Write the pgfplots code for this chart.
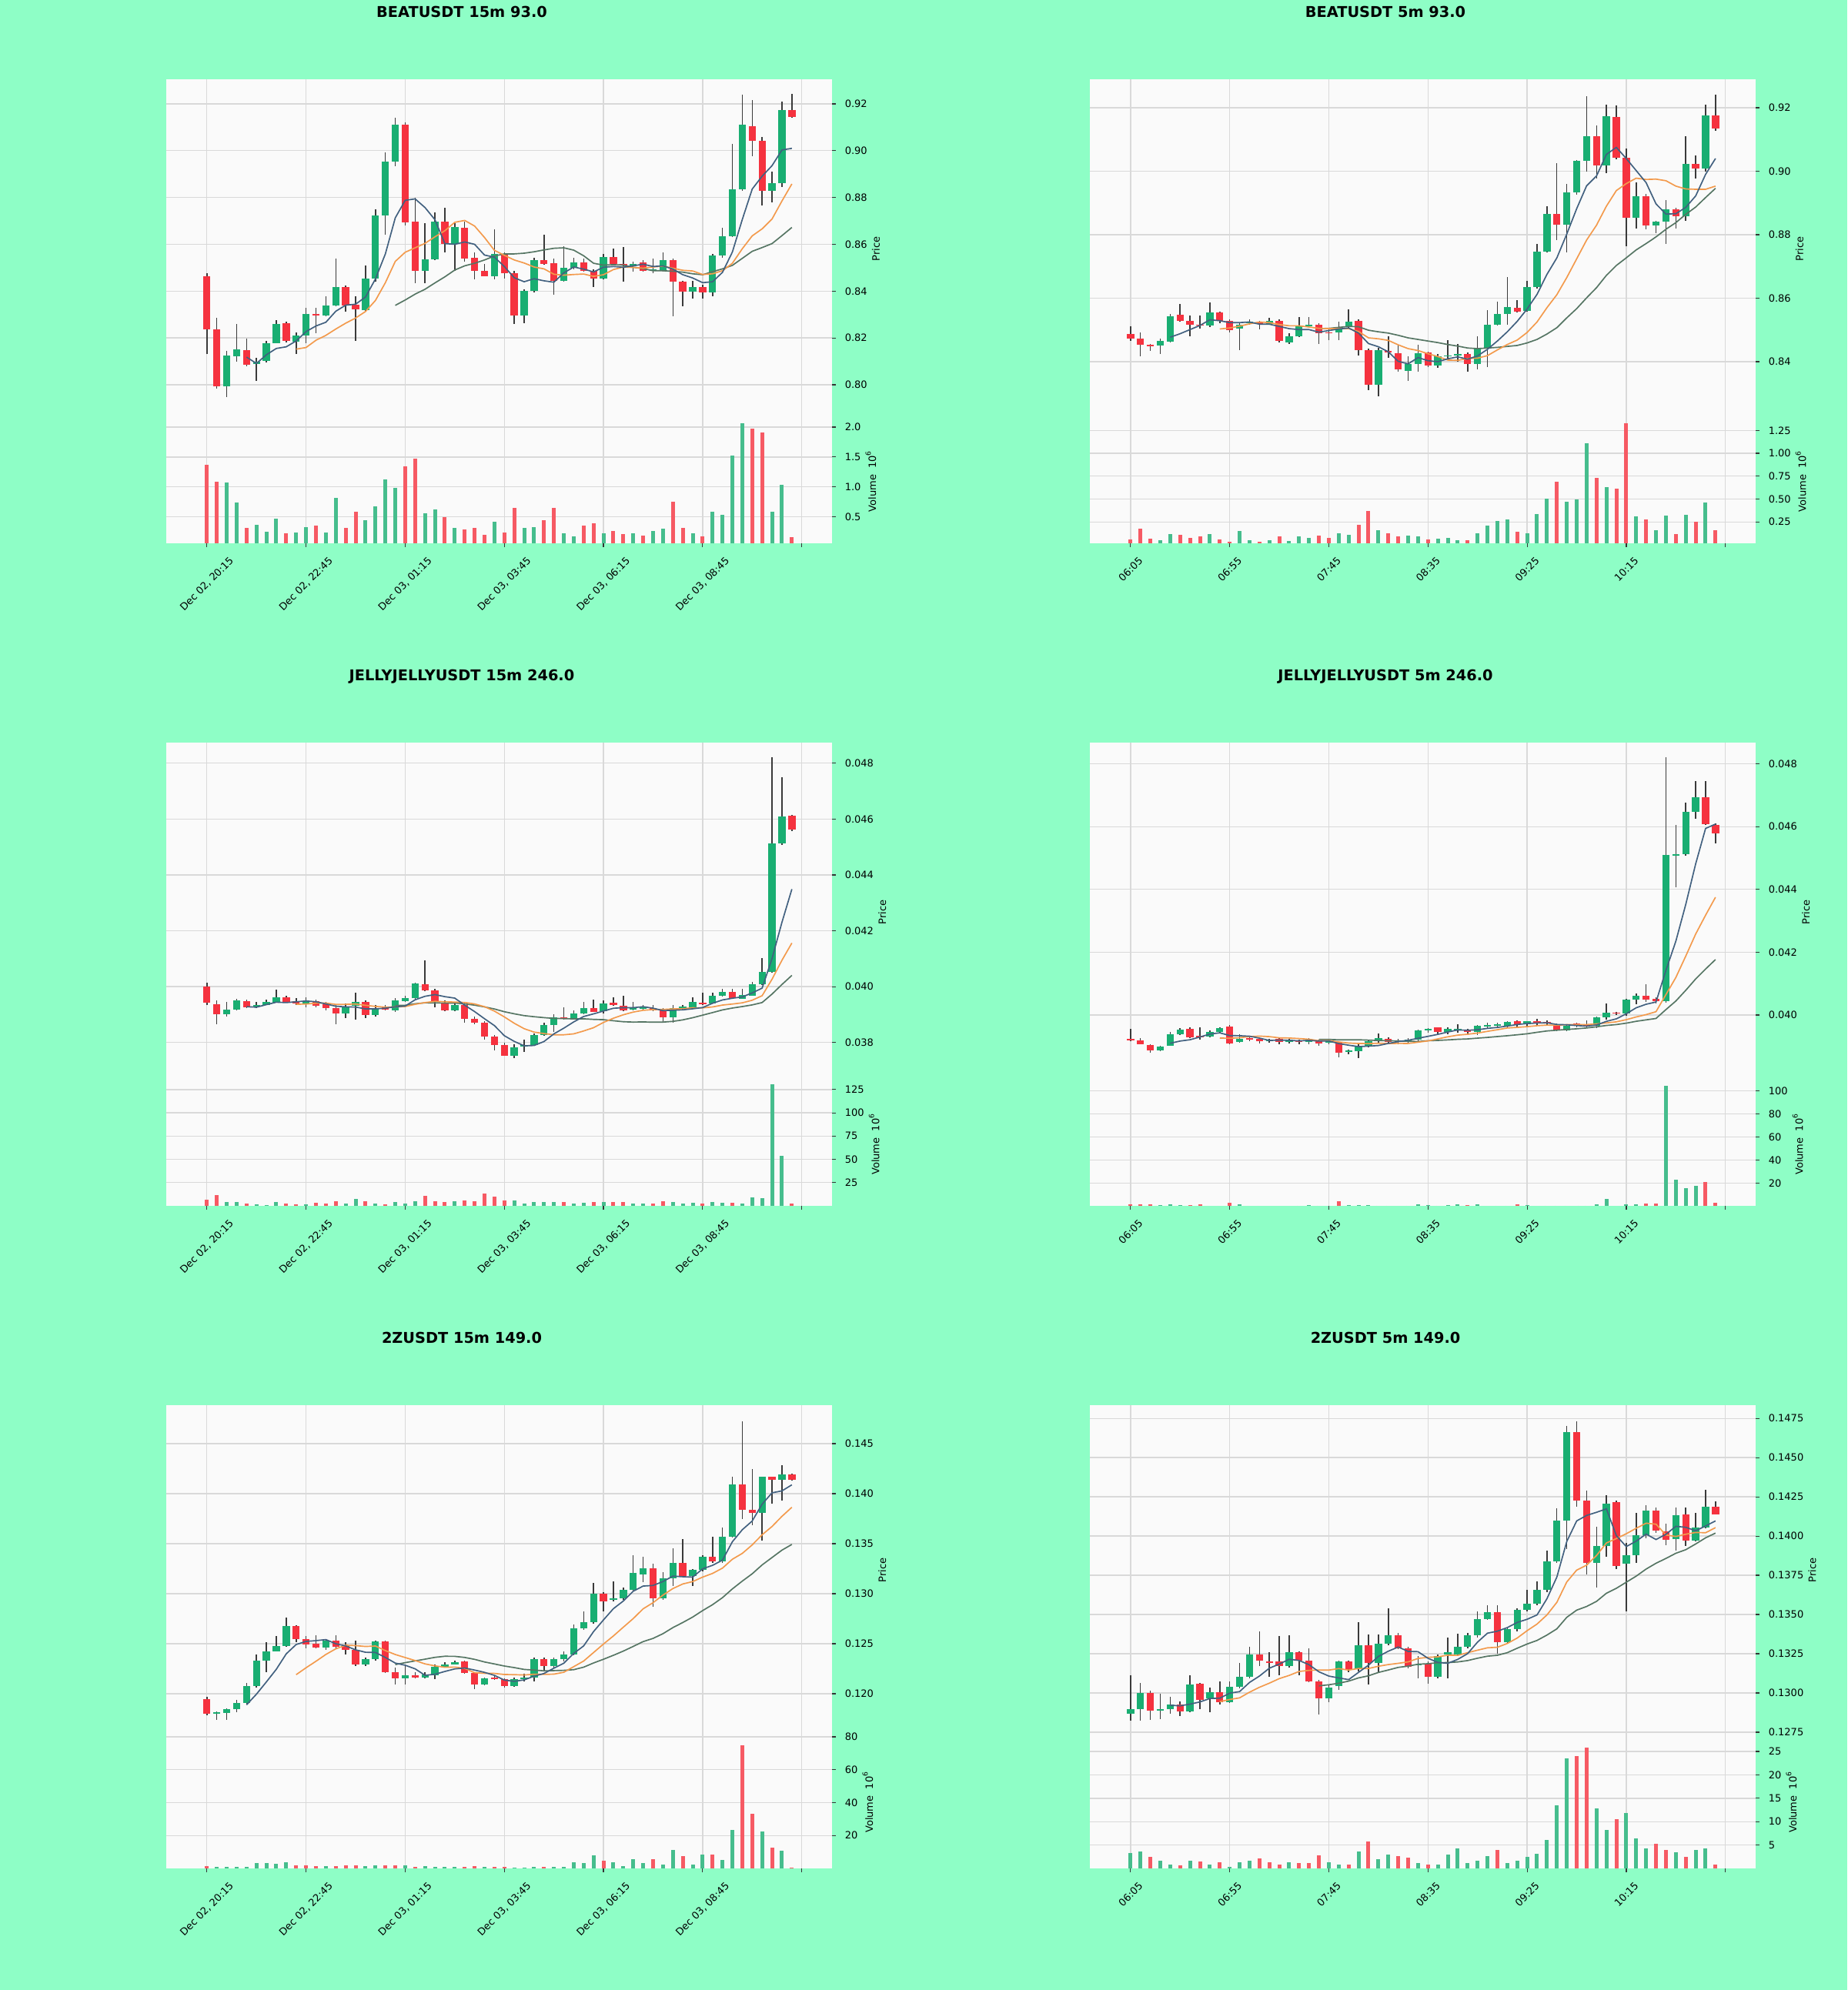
\documentclass[border=0pt]{standalone}
\usepackage{fontspec}
\setmainfont{DejaVu Sans}
\usepackage{pgfplots}
\usepackage{pgfplotstable}
\pgfplotsset{compat=1.18}

\definecolor{figbg}{HTML}{8EFEC6}
\definecolor{axbg}{HTML}{FAFAFA}
\definecolor{gridc}{HTML}{D9D9D9}
\definecolor{upc}{HTML}{19AE72}
\definecolor{dnc}{HTML}{F5323F}
\definecolor{upv}{HTML}{46BD8D}
\definecolor{dnv}{HTML}{F65A64}
\definecolor{wickc}{HTML}{3A3A3A}
\definecolor{ma5c}{HTML}{41607F}
\definecolor{ma10c}{HTML}{F39A4C}
\definecolor{ma20c}{HTML}{557563}

\newcommand{\tickfont}{\fontsize{3.9}{4.7}\selectfont}
\newcommand{\titlefont}{\fontsize{5.8}{7}\selectfont\bfseries}

\pgfplotsset{
  common/.style={anchor=south west, scale only axis, width=259.5pt,
    xmin=-4.1, xmax=63.05,
    axis background/.style={fill=axbg}, axis line style={draw=none},
    grid=major, major grid style={draw=gridc, line width=0.4pt},
    xtick={0,10,20,30,40,50,60},
    ytick pos=right, yticklabel pos=right,
    tick align=outside, major tick length=1.5pt,
    ytick style={draw=black!80, line width=0.35pt},
    tick label style={font=\tickfont},
    scaled y ticks=false,
    ylabel near ticks,
    ylabel style={font=\tickfont},
    ylabel shift=-5pt,
    unbounded coords=discard, clip=true},
  pricestyle/.style={common, xticklabels={}, xtick style={draw=none}, ylabel={Price}},
  volstyle/.style={common, xtick pos=left, xtick style={draw=black!80, line width=0.35pt},
    ylabel={Volume\ \ 10\textsuperscript{6}}},
  col15/.style={xticklabels={{Dec 02, 20:15},{Dec 02, 22:45},{Dec 03, 01:15},{Dec 03, 03:45},{Dec 03, 06:15},{Dec 03, 08:45},{}},
    xticklabel style={yshift=-14.4pt, rotate=45, anchor=center}},
  col5/.style={xticklabels={06:05,06:55,07:45,08:35,09:25,10:15,{}},
    xticklabel style={yshift=-8.7pt, rotate=45, anchor=center}},
  wickplot/.style={draw=none, mark=none, error bars/y dir=both, error bars/y explicit,
    error bars/error mark=none, error bars/error bar style={line width=0.45pt, draw=wickc, solid}},
  bodyplot/.style={draw=none, mark=none, error bars/y dir=both, error bars/y explicit,
    error bars/error mark=none, error bars/error bar style={line width=2.8pt, draw=#1, solid}},
  maline/.style={mark=none, sharp plot, line width=0.5pt, draw=#1},
  volbar/.style={ycomb, mark=none, line width=1.5pt, draw=#1},
}

% #1 table, #2 x left, #3 y bottom, #4 volume height, #5 price height, #6 price options, #7 volume options
\newcommand{\drawpanel}[7]{%
\begin{axis}[pricestyle, at={(#2,#3+#4)}, height=#5, #6]
  \addplot[wickplot] table[x=x, y expr={0.5*(\thisrow{h}+\thisrow{l})}, y error expr={0.5*(\thisrow{h}-\thisrow{l})}] {#1};
  \addplot[bodyplot=upc] table[x=x, y expr={\thisrow{c}>=\thisrow{o} ? 0.5*(\thisrow{o}+\thisrow{c}) : nan}, y error expr={0.5*abs(\thisrow{c}-\thisrow{o})}] {#1};
  \addplot[bodyplot=dnc] table[x=x, y expr={\thisrow{c}<\thisrow{o} ? 0.5*(\thisrow{o}+\thisrow{c}) : nan}, y error expr={0.5*abs(\thisrow{c}-\thisrow{o})}] {#1};
  \addplot[maline=ma20c] table[x=x, y=m20] {#1};
  \addplot[maline=ma10c] table[x=x, y=m10] {#1};
  \addplot[maline=ma5c] table[x=x, y=m5] {#1};
\end{axis}
\begin{axis}[volstyle, at={(#2,#3)}, height=#4, #7]
  \addplot[volbar=upv] table[x=x, y expr={\thisrow{c}>=\thisrow{o} ? \thisrow{v} : nan}] {#1};
  \addplot[volbar=dnv] table[x=x, y expr={\thisrow{c}<\thisrow{o} ? \thisrow{v} : nan}] {#1};
\end{axis}}

% BEATUSDT 15m
\pgfplotstableread{
x o h l c v m5 m10 m20
0 0.8463 0.8477 0.8132 0.8236 1.37 nan nan nan
1 0.8236 0.8286 0.7985 0.7993 1.09 nan nan nan
2 0.7993 0.8143 0.7948 0.8124 1.08 nan nan nan
3 0.8121 0.8258 0.8100 0.8152 0.74 nan nan nan
4 0.8149 0.8198 0.8078 0.8085 0.32 0.8118 nan nan
5 0.8090 0.8116 0.8017 0.8100 0.37 0.8091 nan nan
6 0.8102 0.8187 0.8095 0.8178 0.25 0.8128 nan nan
7 0.8178 0.8275 0.8176 0.8260 0.47 0.8155 nan nan
8 0.8262 0.8269 0.8182 0.8187 0.23 0.8162 nan nan
9 0.8185 0.8225 0.8132 0.8209 0.24 0.8187 0.8152 nan
10 0.8209 0.8329 0.8176 0.8302 0.33 0.8227 0.8159 nan
11 0.8302 0.8329 0.8220 0.8298 0.36 0.8251 0.8190 nan
12 0.8297 0.8379 0.8291 0.8340 0.24 0.8267 0.8211 nan
13 0.8340 0.8538 0.8335 0.8419 0.82 0.8314 0.8238 nan
14 0.8419 0.8423 0.8313 0.8340 0.32 0.8340 0.8263 nan
15 0.8343 0.8379 0.8187 0.8321 0.59 0.8344 0.8285 nan
16 0.8318 0.8510 0.8313 0.8455 0.45 0.8375 0.8313 nan
17 0.8455 0.8751 0.8439 0.8724 0.68 0.8452 0.8360 nan
18 0.8724 0.8992 0.8642 0.8954 1.12 0.8559 0.8436 nan
19 0.8954 0.9140 0.8932 0.9112 0.99 0.8713 0.8527 0.8339
20 0.9112 0.9120 0.8680 0.8693 1.34 0.8788 0.8566 0.8362
21 0.8696 0.8800 0.8433 0.8488 1.47 0.8794 0.8585 0.8387
22 0.8488 0.8691 0.8433 0.8537 0.56 0.8757 0.8604 0.8408
23 0.8535 0.8735 0.8532 0.8696 0.62 0.8705 0.8632 0.8435
24 0.8696 0.8757 0.8565 0.8603 0.49 0.8603 0.8658 0.8461
25 0.8603 0.8691 0.8488 0.8674 0.32 0.8600 0.8694 0.8490
26 0.8672 0.8696 0.8527 0.8540 0.29 0.8610 0.8702 0.8508
27 0.8543 0.8565 0.8450 0.8486 0.32 0.8600 0.8678 0.8519
28 0.8486 0.8516 0.8463 0.8465 0.20 0.8554 0.8629 0.8533
29 0.8465 0.8663 0.8450 0.8559 0.42 0.8545 0.8574 0.8550
30 0.8559 0.8565 0.8455 0.8477 0.24 0.8505 0.8553 0.8559
31 0.8477 0.8488 0.8258 0.8297 0.65 0.8457 0.8533 0.8559
32 0.8297 0.8406 0.8264 0.8400 0.32 0.8440 0.8520 0.8562
33 0.8400 0.8543 0.8395 0.8532 0.33 0.8453 0.8503 0.8568
34 0.8532 0.8642 0.8514 0.8516 0.44 0.8444 0.8495 0.8576
35 0.8518 0.8538 0.8386 0.8444 0.65 0.8438 0.8472 0.8583
36 0.8444 0.8592 0.8439 0.8499 0.23 0.8478 0.8468 0.8585
37 0.8499 0.8543 0.8494 0.8524 0.18 0.8503 0.8471 0.8575
38 0.8524 0.8538 0.8483 0.8486 0.36 0.8494 0.8473 0.8551
39 0.8486 0.8494 0.8417 0.8455 0.39 0.8482 0.8463 0.8519
40 0.8455 0.8559 0.8450 0.8545 0.23 0.8502 0.8470 0.8511
41 0.8545 0.8581 0.8510 0.8516 0.27 0.8505 0.8492 0.8513
42 0.8515 0.8587 0.8439 0.8510 0.21 0.8502 0.8503 0.8511
43 0.8505 0.8527 0.8483 0.8516 0.22 0.8508 0.8501 0.8502
44 0.8521 0.8532 0.8483 0.8488 0.19 0.8515 0.8498 0.8496
45 0.8486 0.8538 0.8477 0.8494 0.26 0.8505 0.8503 0.8487
46 0.8488 0.8565 0.8483 0.8532 0.30 0.8508 0.8507 0.8487
47 0.8532 0.8538 0.8291 0.8439 0.75 0.8494 0.8498 0.8485
48 0.8439 0.8444 0.8335 0.8397 0.32 0.8470 0.8489 0.8481
49 0.8397 0.8444 0.8368 0.8419 0.23 0.8456 0.8486 0.8474
50 0.8419 0.8428 0.8368 0.8395 0.17 0.8436 0.8471 0.8470
51 0.8395 0.8559 0.8379 0.8552 0.59 0.8440 0.8474 0.8483
52 0.8552 0.8669 0.8543 0.8636 0.53 0.8480 0.8487 0.8495
53 0.8636 0.9030 0.8630 0.8835 1.52 0.8567 0.8519 0.8510
54 0.8835 0.9238 0.8830 0.9112 2.06 0.8706 0.8581 0.8540
55 0.9105 0.9216 0.8976 0.9043 1.97 0.8836 0.8636 0.8570
56 0.9043 0.9058 0.8767 0.8828 1.91 0.8891 0.8666 0.8586
57 0.8828 0.8910 0.8778 0.8861 0.58 0.8936 0.8708 0.8603
58 0.8861 0.9211 0.8844 0.9173 1.04 0.9003 0.8785 0.8637
59 0.9173 0.9244 0.9140 0.9145 0.16 0.9010 0.8858 0.8672
}\tA

% BEATUSDT 5m
\pgfplotstableread{
x o h l c v m5 m10 m20
0 0.84873 0.85115 0.84663 0.84727 0.062 nan nan nan
1 0.84727 0.84929 0.84162 0.84525 0.18 nan nan nan
2 0.84533 0.84566 0.84339 0.84501 0.067 nan nan nan
3 0.84501 0.84727 0.84242 0.84663 0.048 nan nan nan
4 0.84630 0.85495 0.84606 0.85438 0.115 0.8477 nan nan
5 0.85470 0.85818 0.85252 0.85293 0.11 0.8488 nan nan
6 0.85277 0.85454 0.84808 0.85172 0.076 0.8501 nan nan
7 0.85172 0.85454 0.85050 0.85131 0.09 0.8514 nan nan
8 0.85131 0.85875 0.85091 0.85551 0.118 0.8532 nan nan
9 0.85551 0.85576 0.85212 0.85293 0.059 0.8529 0.8503 nan
10 0.85293 0.85333 0.84929 0.84986 0.034 0.8523 0.8506 nan
11 0.85034 0.85212 0.84364 0.85172 0.15 0.8523 0.8512 nan
12 0.85212 0.85333 0.85172 0.85252 0.053 0.8525 0.8519 nan
13 0.85236 0.85293 0.85010 0.85196 0.034 0.8518 0.8525 nan
14 0.85196 0.85374 0.85172 0.85277 0.053 0.8518 0.8523 nan
15 0.85293 0.85333 0.84606 0.84646 0.095 0.8511 0.8517 nan
16 0.84606 0.84889 0.84566 0.84808 0.045 0.8504 0.8513 nan
17 0.84808 0.85414 0.84768 0.85131 0.09 0.8501 0.8513 nan
18 0.85123 0.85414 0.85091 0.85164 0.073 0.8501 0.8509 nan
19 0.85172 0.85212 0.84566 0.84889 0.10 0.8493 0.8505 0.8504
20 0.84929 0.85050 0.84687 0.84889 0.076 0.8498 0.8504 0.8505
21 0.84929 0.85252 0.84687 0.85091 0.124 0.8503 0.8504 0.8508
22 0.85091 0.85656 0.85050 0.85252 0.112 0.8506 0.8504 0.8511
23 0.85293 0.85333 0.84202 0.84364 0.222 0.8490 0.8495 0.8510
24 0.84364 0.84404 0.83111 0.83273 0.37 0.8457 0.8475 0.8499
25 0.83273 0.84444 0.82909 0.84364 0.16 0.8447 0.8472 0.8494
26 0.84339 0.84808 0.84121 0.84307 0.13 0.8431 0.8467 0.8490
27 0.84259 0.84566 0.83693 0.83758 0.095 0.8401 0.8453 0.8483
28 0.83717 0.84162 0.83394 0.83935 0.10 0.8393 0.8441 0.8475
29 0.83935 0.84525 0.83677 0.84259 0.09 0.8413 0.8435 0.8470
30 0.84283 0.84323 0.83838 0.83879 0.062 0.8403 0.8425 0.8465
31 0.83879 0.84242 0.83798 0.84162 0.067 0.8400 0.8416 0.8460
32 0.84162 0.84687 0.84040 0.84202 0.076 0.8409 0.8405 0.8454
33 0.84202 0.84566 0.84000 0.84242 0.048 0.8415 0.8404 0.8449
34 0.84242 0.84283 0.83677 0.83919 0.048 0.8408 0.8410 0.8443
35 0.83919 0.84808 0.83758 0.84404 0.124 0.8418 0.8411 0.8441
36 0.84404 0.85616 0.83838 0.85172 0.21 0.8439 0.8419 0.8443
37 0.85172 0.85899 0.85131 0.85495 0.26 0.8465 0.8437 0.8445
38 0.85495 0.86666 0.85172 0.85713 0.28 0.8494 0.8454 0.8448
39 0.85697 0.85939 0.85551 0.85576 0.146 0.8527 0.8468 0.8451
40 0.85600 0.86545 0.85576 0.86360 0.124 0.8566 0.8492 0.8459
41 0.86360 0.87717 0.86303 0.87458 0.34 0.8612 0.8525 0.8470
42 0.87458 0.88888 0.87434 0.88646 0.506 0.8675 0.8570 0.8487
43 0.88646 0.90262 0.87838 0.88323 0.69 0.8727 0.8611 0.8507
44 0.88323 0.89592 0.87434 0.89333 0.47 0.8802 0.8665 0.8538
45 0.89333 0.90343 0.89268 0.90319 0.497 0.8882 0.8724 0.8567
46 0.90319 0.92363 0.89979 0.91095 1.11 0.8954 0.8783 0.8601
47 0.91095 0.91434 0.89777 0.90182 0.733 0.8985 0.8830 0.8633
48 0.90182 0.92096 0.89939 0.91741 0.63 0.9053 0.8890 0.8672
49 0.91717 0.92080 0.90383 0.90424 0.61 0.9075 0.8939 0.8703
50 0.90424 0.90706 0.87636 0.88541 1.33 0.9040 0.8961 0.8727
51 0.88541 0.89656 0.88202 0.89212 0.31 0.9002 0.8978 0.8752
52 0.89212 0.89292 0.88161 0.88283 0.28 0.8964 0.8974 0.8772
53 0.88283 0.88444 0.88040 0.88404 0.157 0.8897 0.8975 0.8793
54 0.88404 0.89090 0.87717 0.88808 0.32 0.8865 0.8970 0.8817
55 0.88808 0.88848 0.88202 0.88590 0.115 0.8866 0.8953 0.8838
56 0.88590 0.91110 0.88444 0.90238 0.33 0.8886 0.8944 0.8864
57 0.90238 0.90504 0.89777 0.90077 0.255 0.8922 0.8943 0.8887
58 0.90077 0.92096 0.89995 0.91757 0.46 0.8990 0.8943 0.8917
59 0.91757 0.92419 0.91272 0.91353 0.157 0.9040 0.8953 0.8946
}\tB

% JELLYJELLYUSDT 15m
\pgfplotstableread{
x o h l c v m5 m10 m20
0 0.04000 0.04013 0.03933 0.03942 6.5 nan nan nan
1 0.03938 0.03950 0.03866 0.03901 11.6 nan nan nan
2 0.03901 0.03946 0.03894 0.03918 3.8 nan nan nan
3 0.03918 0.03955 0.03916 0.03952 3.8 nan nan nan
4 0.03949 0.03953 0.03922 0.03927 2.7 0.039280 nan nan
5 0.03928 0.03944 0.03924 0.03934 1.4 0.039264 nan nan
6 0.03934 0.03953 0.03933 0.03946 1.0 0.039354 nan nan
7 0.03943 0.03989 0.03942 0.03962 3.8 0.039442 nan nan
8 0.03962 0.03966 0.03944 0.03945 2.1 0.039428 nan nan
9 0.03948 0.03958 0.03935 0.03941 1.4 0.039456 0.039368 nan
10 0.03941 0.03961 0.03927 0.03949 1.4 0.039486 0.039375 nan
11 0.03948 0.03953 0.03927 0.03932 3.1 0.039458 0.039406 nan
12 0.03938 0.03944 0.03916 0.03923 2.1 0.039380 0.039411 nan
13 0.03923 0.03933 0.03866 0.03904 4.8 0.039298 0.039363 nan
14 0.03904 0.03939 0.03888 0.03929 2.7 0.039274 0.039365 nan
15 0.03930 0.03978 0.03883 0.03946 7.2 0.039268 0.039377 nan
16 0.03946 0.03950 0.03888 0.03899 4.8 0.039202 0.039330 nan
17 0.03899 0.03933 0.03894 0.03923 2.7 0.039202 0.039291 nan
18 0.03929 0.03933 0.03916 0.03918 1.4 0.039230 0.039264 nan
19 0.03914 0.03958 0.03908 0.03952 3.8 0.039276 0.039275 0.039322
20 0.03948 0.03966 0.03946 0.03960 2.7 0.039304 0.039286 0.039331
21 0.03958 0.04013 0.03953 0.04011 4.8 0.039528 0.039365 0.039386
22 0.04008 0.04095 0.03983 0.03986 10.6 0.039654 0.039428 0.039420
23 0.03986 0.03991 0.03927 0.03948 4.8 0.039714 0.039472 0.039418
24 0.03943 0.03950 0.03913 0.03915 3.8 0.039640 0.039458 0.039412
25 0.03915 0.03944 0.03911 0.03934 4.8 0.039588 0.039446 0.039412
26 0.03934 0.03944 0.03872 0.03885 5.5 0.039336 0.039432 0.039381
27 0.03885 0.03894 0.03866 0.03871 4.8 0.039106 0.039380 0.039336
28 0.03871 0.03877 0.03810 0.03820 13.0 0.038850 0.039282 0.039273
29 0.03820 0.03827 0.03771 0.03792 10.0 0.038604 0.039122 0.039199
30 0.03792 0.03799 0.03752 0.03753 5.5 0.038242 0.038915 0.039101
31 0.03753 0.03793 0.03745 0.03783 5.5 0.038038 0.038687 0.039026
32 0.03784 0.03810 0.03765 0.03792 2.7 0.037880 0.038493 0.038961
33 0.03792 0.03832 0.03790 0.03826 3.8 0.037892 0.038371 0.038922
34 0.03826 0.03872 0.03824 0.03863 3.8 0.038034 0.038319 0.038889
35 0.03863 0.03900 0.03838 0.03890 3.8 0.038308 0.038275 0.038861
36 0.03890 0.03927 0.03883 0.03885 4.5 0.038512 0.038275 0.038854
37 0.03885 0.03916 0.03883 0.03904 2.1 0.038736 0.038308 0.038844
38 0.03904 0.03946 0.03900 0.03923 3.1 0.038930 0.038411 0.038847
39 0.03923 0.03953 0.03908 0.03910 4.5 0.039024 0.038529 0.038826
40 0.03912 0.03950 0.03905 0.03941 3.8 0.039126 0.038717 0.038816
41 0.03943 0.03961 0.03931 0.03934 3.8 0.039224 0.038868 0.038778
42 0.03932 0.03966 0.03913 0.03915 3.8 0.039246 0.038991 0.038742
43 0.03918 0.03944 0.03916 0.03923 2.7 0.039246 0.039088 0.038730
44 0.03919 0.03935 0.03916 0.03927 2.1 0.039280 0.039152 0.038736
45 0.03923 0.03933 0.03911 0.03915 2.7 0.039228 0.039177 0.038726
46 0.03915 0.03924 0.03872 0.03890 4.8 0.039140 0.039182 0.038729
47 0.03890 0.03933 0.03872 0.03923 4.1 0.039156 0.039201 0.038755
48 0.03921 0.03933 0.03918 0.03929 2.1 0.039168 0.039207 0.038809
49 0.03927 0.03961 0.03922 0.03946 3.4 0.039206 0.039243 0.038886
50 0.03943 0.03978 0.03933 0.03937 2.7 0.039250 0.039239 0.038978
51 0.03940 0.03978 0.03939 0.03967 3.8 0.039404 0.039272 0.039070
52 0.03967 0.03991 0.03964 0.03982 3.1 0.039522 0.039339 0.039165
53 0.03982 0.03991 0.03958 0.03960 3.1 0.039584 0.039376 0.039232
54 0.03957 0.03991 0.03955 0.03970 2.1 0.039632 0.039419 0.039286
55 0.03967 0.04017 0.03966 0.04008 9.0 0.039774 0.039512 0.039345
56 0.04008 0.04101 0.04006 0.04053 8.0 0.039946 0.039675 0.039429
57 0.04053 0.04821 0.04050 0.04513 131 0.041008 0.040265 0.039733
58 0.04513 0.04750 0.04507 0.04608 53.4 0.042304 0.040944 0.040076
59 0.04611 0.04614 0.04558 0.04563 2.1 0.043490 0.041561 0.040402
}\tC

% JELLYJELLYUSDT 5m
\pgfplotstableread{
x o h l c v m5 m10 m20
0 0.03925 0.03956 0.03916 0.03918 1.8 nan nan nan
1 0.03920 0.03926 0.03906 0.03907 1.5 nan nan nan
2 0.03905 0.03908 0.03879 0.03887 1.8 nan nan nan
3 0.03887 0.03903 0.03886 0.03900 1.0 nan nan nan
4 0.03903 0.03946 0.03901 0.03938 1.5 0.039100 nan nan
5 0.03938 0.03958 0.03936 0.03953 1.0 0.039170 nan nan
6 0.03956 0.03961 0.03926 0.03928 1.2 0.039212 nan nan
7 0.03934 0.03961 0.03921 0.03931 1.5 0.039300 nan nan
8 0.03931 0.03951 0.03928 0.03946 0.8 0.039392 nan nan
9 0.03946 0.03961 0.03944 0.03958 0.8 0.039432 0.039266 nan
10 0.03962 0.03968 0.03908 0.03910 3.0 0.039346 0.039258 nan
11 0.03914 0.03938 0.03911 0.03925 1.8 0.039340 0.039276 nan
12 0.03927 0.03931 0.03916 0.03923 0.8 0.039324 0.039312 nan
13 0.03924 0.03926 0.03910 0.03916 0.8 0.039264 0.039328 nan
14 0.03917 0.03923 0.03911 0.03921 0.5 0.039190 0.039311 nan
15 0.03925 0.03926 0.03908 0.03915 0.5 0.039200 0.039273 nan
16 0.03915 0.03924 0.03909 0.03922 0.5 0.039194 0.039267 nan
17 0.03920 0.03921 0.03906 0.03914 0.6 0.039176 0.039250 nan
18 0.03915 0.03926 0.03908 0.03924 1.0 0.039192 0.039228 nan
19 0.03920 0.03921 0.03903 0.03910 0.8 0.039170 0.039180 0.039223
20 0.03912 0.03921 0.03908 0.03917 0.5 0.039174 0.039187 0.039223
21 0.03915 0.03916 0.03864 0.03880 4.4 0.039090 0.039142 0.039209
22 0.03883 0.03890 0.03876 0.03888 1.0 0.039038 0.039107 0.039210
23 0.03886 0.03906 0.03863 0.03902 1.0 0.038994 0.039093 0.039211
24 0.03902 0.03918 0.03896 0.03917 1.2 0.039008 0.039089 0.039200
25 0.03917 0.03941 0.03911 0.03927 0.8 0.039028 0.039101 0.039187
26 0.03925 0.03928 0.03906 0.03913 0.6 0.039094 0.039092 0.039180
27 0.03913 0.03923 0.03908 0.03918 0.5 0.039154 0.039096 0.039173
28 0.03918 0.03926 0.03911 0.03922 0.6 0.039194 0.039094 0.039161
29 0.03922 0.03953 0.03914 0.03950 1.5 0.039260 0.039134 0.039157
30 0.03952 0.03958 0.03944 0.03957 1.2 0.039320 0.039174 0.039181
31 0.03960 0.03961 0.03938 0.03945 0.8 0.039384 0.039239 0.039191
32 0.03945 0.03961 0.03938 0.03955 1.2 0.039458 0.039306 0.039207
33 0.03952 0.03971 0.03944 0.03955 1.8 0.039524 0.039359 0.039226
34 0.03952 0.03956 0.03936 0.03945 1.0 0.039514 0.039387 0.039238
35 0.03945 0.03968 0.03936 0.03965 1.5 0.039530 0.039425 0.039263
36 0.03964 0.03976 0.03958 0.03967 0.5 0.039574 0.039479 0.039286
37 0.03966 0.03976 0.03958 0.03970 0.8 0.039604 0.039531 0.039314
38 0.03965 0.03980 0.03958 0.03977 0.8 0.039648 0.039586 0.039340
39 0.03980 0.03984 0.03961 0.03970 1.8 0.039698 0.039606 0.039370
40 0.03970 0.03981 0.03961 0.03980 1.2 0.039728 0.039629 0.039402
41 0.03980 0.03988 0.03968 0.03975 0.5 0.039744 0.039659 0.039449
42 0.03978 0.03982 0.03966 0.03974 0.6 0.039752 0.039678 0.039492
43 0.03968 0.03973 0.03948 0.03950 0.8 0.039698 0.039673 0.039516
44 0.03950 0.03971 0.03948 0.03965 0.6 0.039688 0.039693 0.039540
45 0.03972 0.03975 0.03961 0.03968 0.4 0.039664 0.039696 0.039561
46 0.03970 0.03984 0.03960 0.03966 0.6 0.039646 0.039695 0.039587
47 0.03965 0.03995 0.03958 0.03992 1.8 0.039682 0.039717 0.039624
48 0.03992 0.04036 0.03986 0.04008 6.4 0.039798 0.039748 0.039667
49 0.04008 0.04010 0.04000 0.04005 0.5 0.039878 0.039783 0.039695
50 0.04005 0.04051 0.03998 0.04048 2.0 0.040038 0.039851 0.039740
51 0.04048 0.04068 0.04034 0.04062 1.8 0.040230 0.039938 0.039799
52 0.04062 0.04098 0.04041 0.04048 2.5 0.040342 0.040012 0.039845
53 0.04052 0.04056 0.04036 0.04044 2.2 0.040414 0.040106 0.039890
54 0.04044 0.04821 0.04038 0.04509 104.6 0.041422 0.040650 0.040172
55 0.04508 0.04606 0.04406 0.04512 23.0 0.042350 0.041194 0.040445
56 0.04512 0.04676 0.04508 0.04648 15.9 0.043522 0.041876 0.040786
57 0.04648 0.04746 0.04626 0.04694 17.5 0.044814 0.042578 0.041148
58 0.04694 0.04744 0.04606 0.04608 20.8 0.045942 0.043178 0.041463
59 0.04606 0.04611 0.04546 0.04578 3.1 0.046080 0.043751 0.041767
}\tD

% 2ZUSDT 15m
\pgfplotstableread{
x o h l c v m5 m10 m20
0 0.11944 0.11969 0.11782 0.11798 1.5 nan nan nan
1 0.11802 0.11823 0.11735 0.11816 0.8 nan nan nan
2 0.11810 0.11854 0.11735 0.11847 0.8 nan nan nan
3 0.11847 0.11938 0.11813 0.11907 0.8 nan nan nan
4 0.11907 0.12109 0.11891 0.12078 1.0 0.118892 nan nan
5 0.12078 0.12390 0.12063 0.12334 3.4 0.119964 nan nan
6 0.12334 0.12514 0.12218 0.12427 3.4 0.121186 nan nan
7 0.12427 0.12577 0.12421 0.12477 2.9 0.122446 nan nan
8 0.12477 0.12764 0.12468 0.12677 3.8 0.123986 nan nan
9 0.12677 0.12686 0.12514 0.12546 2.1 0.124922 0.121907 nan
10 0.12546 0.12577 0.12452 0.12490 1.9 0.125234 0.122599 nan
11 0.12500 0.12583 0.12452 0.12465 1.2 0.125310 0.123248 nan
12 0.12465 0.12546 0.12437 0.12530 1.3 0.125416 0.123931 nan
13 0.12530 0.12583 0.12452 0.12468 1.5 0.124998 0.124492 nan
14 0.12477 0.12514 0.12390 0.12437 1.8 0.124780 0.124851 nan
15 0.12437 0.12530 0.12281 0.12296 2.1 0.124392 0.124813 nan
16 0.12296 0.12359 0.12281 0.12343 1.2 0.124148 0.124729 nan
17 0.12343 0.12530 0.12334 0.12521 2.0 0.124130 0.124773 nan
18 0.12521 0.12530 0.12209 0.12218 2.0 0.123630 0.124314 nan
19 0.12218 0.12265 0.12094 0.12156 2.0 0.123068 0.123924 0.122916
20 0.12156 0.12281 0.12094 0.12187 1.8 0.122850 0.123621 0.123110
21 0.12187 0.12218 0.12156 0.12165 1.0 0.122494 0.123321 0.123285
22 0.12165 0.12218 0.12156 0.12196 1.2 0.121844 0.122987 0.123459
23 0.12187 0.12296 0.12147 0.12271 1.0 0.121950 0.122790 0.123641
24 0.12271 0.12312 0.12265 0.12296 1.0 0.122230 0.122649 0.123750
25 0.12296 0.12334 0.12296 0.12315 1.0 0.122486 0.122668 0.123741
26 0.12321 0.12334 0.12203 0.12209 0.8 0.122574 0.122534 0.123632
27 0.12209 0.12218 0.12047 0.12094 1.5 0.122370 0.122107 0.123440
28 0.12094 0.12165 0.12084 0.12156 0.8 0.122140 0.122045 0.123180
29 0.12165 0.12187 0.12140 0.12147 0.8 0.121842 0.122036 0.122980
30 0.12147 0.12156 0.12063 0.12078 0.8 0.121368 0.121927 0.122774
31 0.12078 0.12165 0.12072 0.12147 0.6 0.121244 0.121909 0.122615
32 0.12147 0.12203 0.12125 0.12165 0.5 0.121386 0.121878 0.122433
33 0.12165 0.12359 0.12125 0.12343 0.8 0.121760 0.121950 0.122370
34 0.12343 0.12359 0.12234 0.12281 0.8 0.122028 0.121935 0.122292
35 0.12281 0.12359 0.12265 0.12343 1.0 0.122558 0.121963 0.122316
36 0.12343 0.12421 0.12327 0.12396 0.8 0.123056 0.122150 0.122342
37 0.12396 0.12695 0.12384 0.12655 3.8 0.124036 0.122711 0.122409
38 0.12655 0.12826 0.12639 0.12717 3.4 0.124784 0.123272 0.122659
39 0.12717 0.13107 0.12702 0.12998 8.0 0.126218 0.124123 0.123080
40 0.12998 0.13013 0.12826 0.12926 4.8 0.127384 0.124971 0.123449
41 0.12936 0.13122 0.12920 0.12957 3.8 0.128506 0.125781 0.123845
42 0.12957 0.13060 0.12935 0.13038 1.5 0.129272 0.126654 0.124266
43 0.13038 0.13387 0.13019 0.13206 5.5 0.130250 0.127517 0.124734
44 0.13194 0.13372 0.13113 0.13256 3.4 0.130766 0.128492 0.125214
45 0.13256 0.13300 0.12873 0.12957 5.5 0.130828 0.129106 0.125535
46 0.12957 0.13216 0.12935 0.13153 2.5 0.131220 0.129863 0.126007
47 0.13153 0.13456 0.13076 0.13309 11.2 0.131762 0.130517 0.126614
48 0.13309 0.13549 0.13169 0.13175 7.7 0.131700 0.130975 0.127124
49 0.13175 0.13247 0.13076 0.13238 2.5 0.131664 0.131215 0.127669
50 0.13238 0.13387 0.13225 0.13372 8.3 0.132494 0.131661 0.128316
51 0.13372 0.13568 0.13309 0.13325 8.3 0.132838 0.132029 0.128905
52 0.13325 0.13662 0.13309 0.13568 5.0 0.133356 0.132559 0.129607
53 0.13568 0.14166 0.13559 0.14095 23.4 0.135196 0.133448 0.130483
54 0.14095 0.14721 0.13746 0.13839 74.6 0.136398 0.134031 0.131262
55 0.13839 0.14244 0.13683 0.13808 33.2 0.137270 0.134882 0.131994
56 0.13808 0.14173 0.13528 0.14167 22.3 0.138954 0.135896 0.132880
57 0.14167 0.14173 0.13902 0.14135 12.7 0.140088 0.136722 0.133620
58 0.14135 0.14285 0.13933 0.14191 10.9 0.140280 0.137738 0.134357
59 0.14191 0.14204 0.14129 0.14142 0.4 0.140886 0.138642 0.134929
}\tE

% 2ZUSDT 5m
\pgfplotstableread{
x o h l c v m5 m10 m20
0 0.12869 0.13113 0.12825 0.12899 3.3 nan nan nan
1 0.12899 0.13064 0.12821 0.13000 3.6 nan nan nan
2 0.13000 0.13014 0.12829 0.12885 2.5 nan nan nan
3 0.12889 0.12994 0.12835 0.12895 1.6 nan nan nan
4 0.12899 0.12974 0.12865 0.12928 0.8 0.129214 nan nan
5 0.12928 0.12944 0.12855 0.12881 0.6 0.129178 nan nan
6 0.12881 0.13113 0.12875 0.13054 1.6 0.129286 nan nan
7 0.13060 0.13064 0.12895 0.12955 1.5 0.129426 nan nan
8 0.12964 0.13034 0.12875 0.13004 0.8 0.129644 nan nan
9 0.13004 0.13074 0.12924 0.12940 1.3 0.129668 0.129441 nan
10 0.12940 0.13074 0.12934 0.13040 0.4 0.129986 0.129582 nan
11 0.13040 0.13193 0.13028 0.13103 1.3 0.130084 0.129685 nan
12 0.13103 0.13292 0.13093 0.13247 1.7 0.130668 0.130047 nan
13 0.13247 0.13392 0.13173 0.13207 2.1 0.131074 0.130359 nan
14 0.13199 0.13262 0.13103 0.13191 1.3 0.131576 0.130622 nan
15 0.13199 0.13362 0.13113 0.13171 0.9 0.131838 0.130912 nan
16 0.13171 0.13366 0.13163 0.13258 1.3 0.132148 0.131116 nan
17 0.13258 0.13266 0.13113 0.13207 1.1 0.132068 0.131368 nan
18 0.13207 0.13282 0.13068 0.13074 1.2 0.131802 0.131438 nan
19 0.13074 0.13083 0.12861 0.12964 2.8 0.131348 0.131462 0.130452
20 0.12964 0.13054 0.12940 0.13034 1.3 0.131074 0.131456 0.130519
21 0.13044 0.13207 0.13020 0.13199 0.8 0.130956 0.131552 0.130619
22 0.13199 0.13207 0.13133 0.13153 0.8 0.130848 0.131458 0.130753
23 0.13153 0.13451 0.13139 0.13306 3.6 0.131312 0.131557 0.130958
24 0.13306 0.13372 0.13054 0.13193 5.8 0.131770 0.131559 0.131091
25 0.13193 0.13372 0.13133 0.13312 1.9 0.132326 0.131700 0.131306
26 0.13312 0.13537 0.13306 0.13366 2.9 0.132660 0.131808 0.131462
27 0.13366 0.13382 0.13278 0.13286 2.6 0.132926 0.131887 0.131628
28 0.13286 0.13292 0.13159 0.13167 2.3 0.132648 0.131980 0.131709
29 0.13175 0.13233 0.13093 0.13183 1.1 0.132628 0.132199 0.131831
30 0.13187 0.13199 0.13060 0.13103 0.9 0.132210 0.132268 0.131862
31 0.13103 0.13247 0.13093 0.13233 0.9 0.131944 0.132302 0.131927
32 0.13243 0.13352 0.13093 0.13258 2.9 0.131888 0.132407 0.131933
33 0.13247 0.13378 0.13233 0.13292 4.3 0.132138 0.132393 0.131975
34 0.13292 0.13382 0.13286 0.13366 1.1 0.132504 0.132566 0.132063
35 0.13366 0.13521 0.13352 0.13471 1.7 0.133240 0.132725 0.132213
36 0.13471 0.13561 0.13465 0.13517 2.7 0.133808 0.132876 0.132342
37 0.13517 0.13561 0.13252 0.13322 3.9 0.133936 0.132912 0.132400
38 0.13322 0.13417 0.13312 0.13406 1.1 0.134164 0.133151 0.132566
39 0.13406 0.13541 0.13392 0.13531 1.6 0.134494 0.133499 0.132849
40 0.13531 0.13656 0.13521 0.13571 2.4 0.134694 0.133967 0.133118
41 0.13571 0.13710 0.13561 0.13656 3.1 0.134972 0.134390 0.133346
42 0.13656 0.13909 0.13640 0.13839 6.1 0.136006 0.134971 0.133689
43 0.13839 0.14177 0.13829 0.14097 13.5 0.137388 0.135776 0.134085
44 0.14097 0.14704 0.13918 0.14664 23.5 0.139654 0.137074 0.134820
45 0.14664 0.14730 0.14187 0.14227 24.0 0.140966 0.137830 0.135278
46 0.14227 0.14292 0.13755 0.13830 25.9 0.141314 0.138143 0.135510
47 0.13830 0.14058 0.13670 0.13939 12.8 0.141514 0.138760 0.135836
48 0.13939 0.14260 0.13869 0.14207 8.3 0.141734 0.139561 0.136356
49 0.14217 0.14227 0.13789 0.13810 10.6 0.140026 0.139840 0.136670
50 0.13822 0.13958 0.13521 0.13878 11.8 0.139328 0.140147 0.137057
51 0.13878 0.14147 0.13829 0.14004 6.4 0.139676 0.140495 0.137443
52 0.14004 0.14197 0.13988 0.14163 4.3 0.140124 0.140819 0.137895
53 0.14163 0.14181 0.14018 0.14034 5.3 0.139778 0.140756 0.138266
54 0.14030 0.14078 0.13942 0.13977 3.9 0.140112 0.140069 0.138572
55 0.13979 0.14181 0.13909 0.14132 3.4 0.140620 0.139974 0.138902
56 0.14138 0.14181 0.13938 0.13973 2.4 0.140558 0.140117 0.139130
57 0.13973 0.14147 0.13968 0.14052 3.9 0.140336 0.140230 0.139495
58 0.14052 0.14296 0.14048 0.14187 4.3 0.140642 0.140210 0.139886
59 0.14187 0.14221 0.14137 0.14138 0.8 0.140964 0.140538 0.140189
}\tF

\begin{document}
\begin{tikzpicture}
\path[use as bounding box, fill=figbg] (0,0) rectangle (720pt,775.8pt);

\drawpanel{\tA}{64.8pt}{564pt}{48.6pt}{132.3pt}
  {ymin=0.78553, ymax=0.93052, ytick={0.80,0.82,0.84,0.86,0.88,0.90,0.92}, yticklabels={0.80,0.82,0.84,0.86,0.88,0.90,0.92}}
  {ymin=0.059, ymax=2.141, ytick={0.5,1.0,1.5,2.0}, yticklabels={0.5,1.0,1.5,2.0}, col15}
\drawpanel{\tB}{424.8pt}{564pt}{48.6pt}{132.3pt}
  {ymin=0.82206, ymax=0.92897, ytick={0.84,0.86,0.88,0.90,0.92}, yticklabels={0.84,0.86,0.88,0.90,0.92}}
  {ymin=0.017, ymax=1.3786, ytick={0.25,0.50,0.75,1.00,1.25}, yticklabels={0.25,0.50,0.75,1.00,1.25}, col5}
\drawpanel{\tC}{64.8pt}{305.7pt}{48.3pt}{132.3pt}
  {ymin=0.036586, ymax=0.048739, ytick={0.038,0.040,0.042,0.044,0.046,0.048}, yticklabels={0.038,0.040,0.042,0.044,0.046,0.048}}
  {ymin=0, ymax=133.2, ytick={25,50,75,100,125}, yticklabels={25,50,75,100,125}, col15}
\drawpanel{\tD}{424.8pt}{305.7pt}{48.3pt}{132.3pt}
  {ymin=0.037868, ymax=0.048676, ytick={0.040,0.042,0.044,0.046,0.048}, yticklabels={0.040,0.042,0.044,0.046,0.048}}
  {ymin=0.5, ymax=107.7, ytick={20,40,60,80,100}, yticklabels={20,40,60,80,100}, col5}
\drawpanel{\tE}{64.8pt}{47.4pt}{51.9pt}{128.7pt}
  {ymin=0.11585, ymax=0.14885, ytick={0.120,0.125,0.130,0.135,0.140,0.145}, yticklabels={0.120,0.125,0.130,0.135,0.140,0.145}}
  {ymin=0, ymax=80.9, ytick={20,40,60,80}, yticklabels={20,40,60,80}, col15}
\drawpanel{\tF}{424.8pt}{47.4pt}{51.9pt}{128.7pt}
  {ymin=0.1273, ymax=0.148344, ytick={0.1275,0.1300,0.1325,0.1350,0.1375,0.1400,0.1425,0.1450,0.1475}, yticklabels={0.1275,0.1300,0.1325,0.1350,0.1375,0.1400,0.1425,0.1450,0.1475}}
  {ymin=0, ymax=28.47, ytick={5,10,15,20,25}, yticklabels={5,10,15,20,25}, col5}

\node[font=\titlefont, anchor=base] at (180pt,769.0pt) {BEATUSDT 15m 93.0};
\node[font=\titlefont, anchor=base] at (540pt,769.0pt) {BEATUSDT 5m 93.0};
\node[font=\titlefont, anchor=base] at (180pt,510.4pt) {JELLYJELLYUSDT 15m 246.0};
\node[font=\titlefont, anchor=base] at (540pt,510.4pt) {JELLYJELLYUSDT 5m 246.0};
\node[font=\titlefont, anchor=base] at (180pt,252.1pt) {2ZUSDT 15m 149.0};
\node[font=\titlefont, anchor=base] at (540pt,252.1pt) {2ZUSDT 5m 149.0};
\end{tikzpicture}
\end{document}
